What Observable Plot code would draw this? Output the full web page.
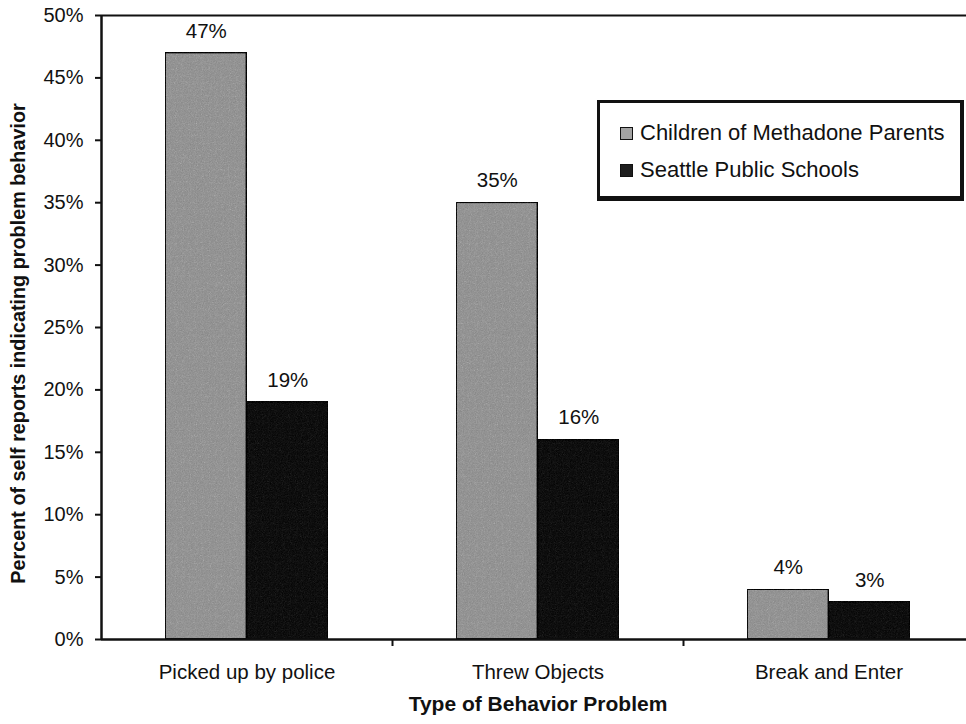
<!DOCTYPE html>
<html>
<head>
<meta charset="utf-8">
<script src="https://cdn.jsdelivr.net/npm/d3@7"></script>
<script src="https://cdn.jsdelivr.net/npm/@observablehq/plot@0.6"></script>
<style>
  html, body { margin: 0; padding: 0; background: #fff; overflow: hidden; }
  #wrap { position: relative; width: 966px; height: 724px; font-family: "Liberation Sans", Arial, sans-serif; }
  #legend {
    position: absolute; left: 597px; top: 100px; width: 367px; height: 101px;
    border: 3px solid #111; border-bottom-width: 5px; border-right-width: 4px; background: #fff; box-sizing: border-box;
    font-size: 22px; color: #111;
  }
  #legend .row { position: absolute; left: 20px; display: flex; align-items: center; line-height: 1; }
  #legend .sw { width: 11px; height: 11px; border: 1px solid #111; margin-right: 7px; }
</style>
</head>
<body>
<div id="wrap"></div>
<script>
// Behaviour problems reported by children of methadone parents vs. Seattle public schools
const categories = ["Picked up by police", "Threw Objects", "Break and Enter"];
const seriesNames = ["Children of Methadone Parents", "Seattle Public Schools"];
const methadone = [47, 35, 4];
const seattle = [19, 16, 3];
const yTicks = [0, 5, 10, 15, 20, 25, 30, 35, 40, 45, 50];
const seriesFill = ["#a3a3a3", "#1e1e1e"];

// Each category occupies one unit on a linear x scale; the two bars sit side by side at its centre.
const barWidth = 0.28;
const rows = [];
categories.forEach((c, i) => {
  rows.push({cat: c, i, series: 0, value: methadone[i]});
  rows.push({cat: c, i, series: 1, value: seattle[i]});
});
const x1 = d => d.i + 0.5 + (d.series === 0 ? -barWidth : 0);
const x2 = d => d.i + 0.5 + (d.series === 0 ? 0 : barWidth);

const chart = Plot.plot({
  width: 966,
  height: 724,
  marginLeft: 101,
  marginRight: -8,
  marginTop: 15,
  marginBottom: 85,
  style: {fontFamily: "Liberation Sans, Arial, sans-serif", fontSize: "20px", color: "#111", background: "#fff"},
  x: {domain: [0, categories.length], axis: null},
  y: {domain: [0, 50], axis: null},
  marks: [
    Plot.rectY(rows, {
      x1, x2, y1: 0, y2: "value",
      fill: d => seriesFill[d.series],
      stroke: "#111", strokeWidth: 1.8
    }),
    Plot.text(rows, {
      x: d => (x1(d) + x2(d)) / 2, y: "value",
      text: d => d.value + "%", dy: -22, fontSize: 20.5, fill: "#111"
    }),
    // frame lines: top border, left and bottom axes
    Plot.ruleY([50], {stroke: "#111", strokeWidth: 2}),
    Plot.ruleY([0], {stroke: "#111", strokeWidth: 2.5}),
    Plot.ruleX([0], {stroke: "#111", strokeWidth: 2.5}),
    Plot.axisY({ticks: yTicks, tickFormat: d => d + "%", tickSize: 6, tickPadding: 12, strokeWidth: 2, stroke: "#111", label: null, fontSize: 20}),
    // category separators on the x axis
    Plot.axisX({ticks: d3.range(1, categories.length), tickFormat: () => "", tickSize: 7, strokeWidth: 2, label: null}),
    Plot.axisX({ticks: categories.map((c, i) => i + 0.5), tickFormat: v => categories[Math.floor(v)], tickSize: 0, tickPadding: 25, label: null, fontSize: 20.5}),
    Plot.text(["Percent of self reports indicating problem behavior"], {
      frameAnchor: "left", textAnchor: "middle", rotate: -90, dx: -83, dy: 16,
      fontWeight: "bold", fontSize: 19.8, fill: "#111"
    }),
    Plot.text(["Type of Behavior Problem"], {
      frameAnchor: "bottom", textAnchor: "middle", dy: 71, fontWeight: "bold", fontSize: 21, fill: "#111"
    })
  ]
});

// printed grain on the bars
const svgNS = "http://www.w3.org/2000/svg";
const defs = document.createElementNS(svgNS, "defs");
defs.innerHTML = `
  <filter id="grain" x="0" y="0" width="100%" height="100%" color-interpolation-filters="sRGB">
    <feTurbulence type="fractalNoise" baseFrequency="0.85" numOctaves="2" seed="7" result="noise"/>
    <feColorMatrix in="noise" type="saturate" values="0" result="gnoise"/>
    <feComposite in="SourceGraphic" in2="gnoise" operator="arithmetic" k1="0" k2="1" k3="0.3" k4="-0.15" result="mix"/>
    <feComposite in="mix" in2="SourceGraphic" operator="in"/>
  </filter>`;
chart.insertBefore(defs, chart.firstChild);
d3.select(chart).selectAll('g[aria-label="rect"] rect').attr("filter", "url(#grain)");

document.getElementById("wrap").appendChild(chart);

// legend box inside the plotting area
const legend = document.createElement("div");
legend.id = "legend";
seriesNames.forEach((name, k) => {
  const row = document.createElement("div");
  row.className = "row";
  row.style.top = (k === 0 ? 19 : 56) + "px";
  const sw = document.createElement("span");
  sw.className = "sw";
  sw.style.background = seriesFill[k];
  const label = document.createElement("span");
  label.textContent = name;
  row.appendChild(sw);
  row.appendChild(label);
  legend.appendChild(row);
});
document.getElementById("wrap").appendChild(legend);
</script>
</body>
</html>
